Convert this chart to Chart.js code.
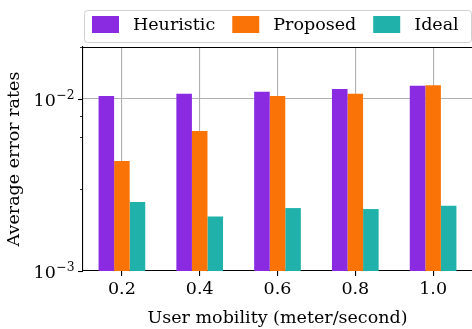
<!DOCTYPE html>
<html>
<head>
<meta charset="utf-8">
<script src="https://cdn.jsdelivr.net/npm/chart.js@4/dist/chart.umd.min.js"></script>
<style>
  html, body { margin: 0; padding: 0; background: #ffffff; }
  #wrap { width: 472px; height: 329px; }
</style>
</head>
<body>
<div id="wrap"><canvas id="chart" width="472" height="329"></canvas></div>
<script>
// Mobility levels (meter/second) and average error rate per scheme
const categories = ['0.2', '0.4', '0.6', '0.8', '1.0'];
const heuristic = [0.0104, 0.0107, 0.0110, 0.0114, 0.0119];
const proposed  = [0.00436, 0.0065, 0.0104, 0.0107, 0.0120];
const ideal     = [0.00252, 0.00207, 0.00232, 0.00229, 0.00239];
const seriesNames = ['Heuristic', 'Proposed', 'Ideal'];
const yMin = 0.001, yMax = 0.02;

const FONT = "'DejaVu Serif', serif";
const FS = 17.5;
const colors = ['#8a2be2', '#f97306', '#20b2aa'];

// Frame, log ticks with superscript labels, and the boxed legend
const decorations = {
  id: 'decorations',
  afterDraw(chart) {
    const ctx = chart.ctx;
    const area = chart.chartArea;
    const y = chart.scales.y;
    ctx.save();

    // top spine
    ctx.strokeStyle = '#000';
    ctx.lineWidth = 1.1;
    ctx.beginPath();
    ctx.moveTo(area.left, area.top + 0.5);
    ctx.lineTo(area.right, area.top + 0.5);
    ctx.stroke();

    // y tick marks (major and minor) and 10^n labels
    y.ticks.forEach(t => {
      const v = t.value;
      const py = Math.round(y.getPixelForValue(v)) + 0.5;
      const exp = Math.log10(v);
      const major = Math.abs(exp - Math.round(exp)) < 1e-9;
      const len = major ? 5 : 3;
      ctx.beginPath();
      ctx.lineWidth = major ? 1.1 : 0.8;
      ctx.moveTo(area.left - len, py);
      ctx.lineTo(area.left, py);
      ctx.stroke();
      if (major) {
        const e = Math.round(exp);
        const sup = '\u2212' + Math.abs(e);
        const supFont = (FS * 0.7).toFixed(1) + 'px ' + FONT;
        ctx.fillStyle = '#000';
        ctx.textBaseline = 'alphabetic';
        ctx.font = supFont;
        const supW = ctx.measureText(sup).width;
        ctx.font = FS + 'px ' + FONT;
        const baseW = ctx.measureText('10').width;
        const right = area.left - 5 - 4;
        const x0 = right - supW - baseW;
        ctx.textAlign = 'left';
        ctx.fillText('10', x0, py + 6.5);
        ctx.font = supFont;
        ctx.fillText(sup, x0 + baseW + 0.5, py - 0.5);
      }
    });

    // legend box
    const lx = 84.5, ly = 10.5, lw = 387, lh = 32;
    ctx.beginPath();
    ctx.roundRect(lx, ly, lw, lh, 3);
    ctx.fillStyle = 'rgba(255,255,255,0.8)';
    ctx.fill();
    ctx.strokeStyle = '#d0d0d0';
    ctx.lineWidth = 1;
    ctx.stroke();

    ctx.font = FS + 'px ' + FONT;
    ctx.textBaseline = 'middle';
    ctx.textAlign = 'left';
    let x = 92;
    chart.data.datasets.forEach(ds => {
      ctx.fillStyle = ds.backgroundColor;
      ctx.fillRect(x, 16, 27, 17);
      x += 27 + 14;
      ctx.fillStyle = '#000';
      ctx.fillText(ds.label, x, 25);
      x += ctx.measureText(ds.label).width + 17;
    });
    ctx.restore();
  }
};

new Chart(document.getElementById('chart'), {
  type: 'bar',
  data: {
    labels: categories,
    datasets: [
      { label: seriesNames[0], data: heuristic, backgroundColor: colors[0] },
      { label: seriesNames[1], data: proposed,  backgroundColor: colors[1] },
      { label: seriesNames[2], data: ideal,     backgroundColor: colors[2] }
    ]
  },
  options: {
    responsive: false,
    animation: false,
    devicePixelRatio: 1,
    layout: { padding: { top: 47, left: 0, right: 0, bottom: 0 } },
    datasets: { bar: { categoryPercentage: 0.6, barPercentage: 1.0, borderWidth: 0 } },
    plugins: { legend: { display: false }, tooltip: { enabled: false } },
    scales: {
      x: {
        type: 'category',
        offset: true,
        z: 1,
        grid: { offset: false, color: '#b0b0b0', lineWidth: 1.1, tickColor: '#000', tickLength: 5, tickWidth: 1.1 },
        border: { color: '#000', width: 1.1 },
        ticks: { color: '#000', font: { family: FONT, size: FS }, padding: 3, maxRotation: 0 },
        title: { display: true, text: 'User mobility (meter/second)', color: '#000', font: { family: FONT, size: FS }, padding: { top: 0, bottom: 0 } },
        afterFit(s) { s.height = 58; }
      },
      y: {
        type: 'logarithmic',
        min: yMin,
        max: yMax,
        z: 1,
        grid: {
          drawTicks: false,
          lineWidth: 1.1,
          color: ctx => (ctx.tick && Math.abs(ctx.tick.value - 0.01) < 1e-9) ? '#b0b0b0' : 'rgba(0,0,0,0)'
        },
        border: { color: '#000', width: 1.1 },
        ticks: { callback: () => '', font: { family: FONT, size: FS } },
        title: { display: true, text: 'Average error rates', color: '#000', font: { family: FONT, size: FS }, padding: { top: 4, bottom: 0 } },
        afterFit(s) { s.width = 83; }
      }
    }
  },
  plugins: [decorations]
});
</script>
</body>
</html>
